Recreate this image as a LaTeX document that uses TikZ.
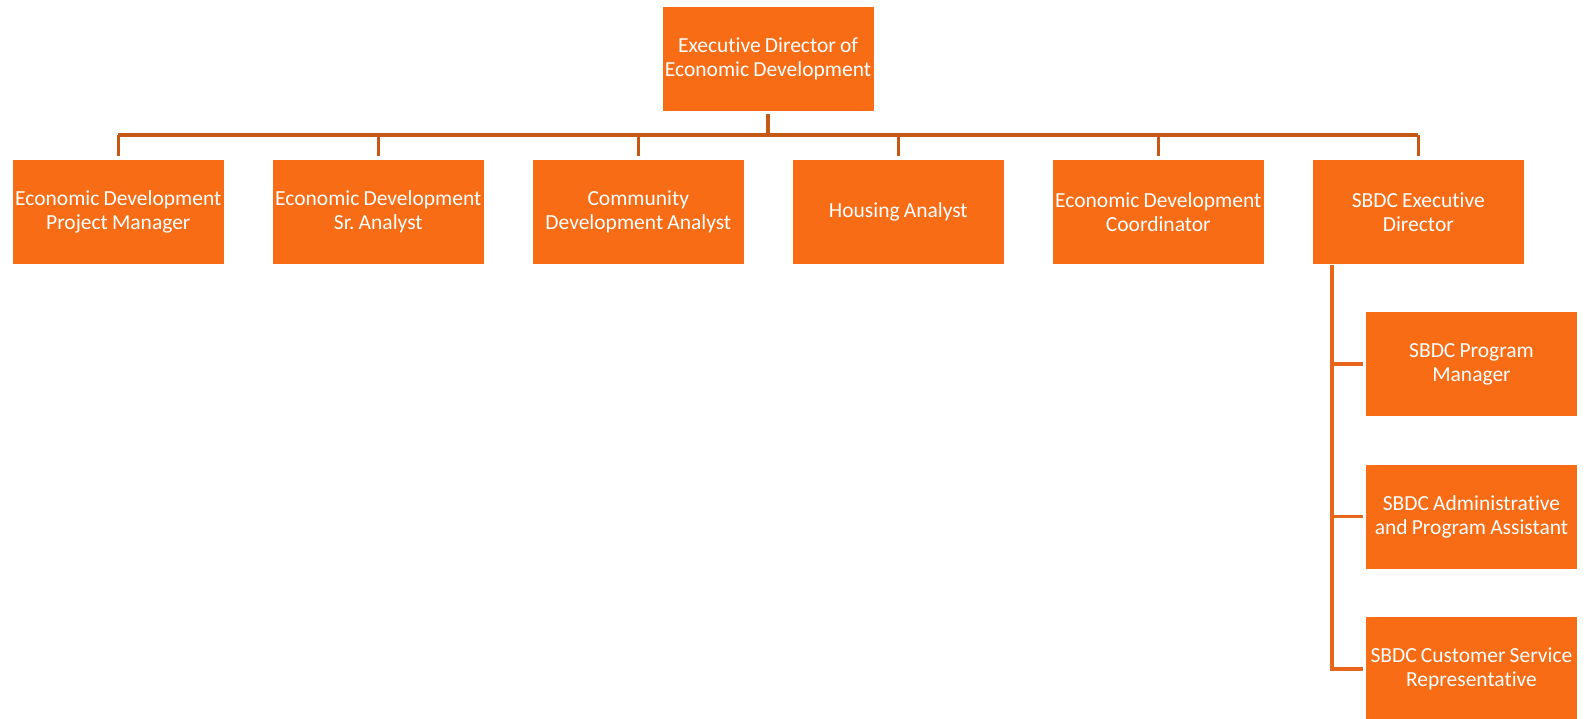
\documentclass[tikz,border=0pt]{standalone}
\usepackage{fontspec}
\setmainfont{Carlito}[Ligatures=NoCommon, WordSpace=0.85]
\definecolor{boxfill}{RGB}{249,108,22}
\definecolor{linetop}{RGB}{197,88,20}
\definecolor{lineside}{RGB}{232,102,28}
\tikzset{
  orgbox/.style={rectangle, fill=boxfill, draw=none, minimum width=211pt, minimum height=104pt,
    inner sep=0pt, align=center, text=white,
    font=\fontsize{21.5}{24}\selectfont\frenchspacing},
  conn/.style={draw=linetop, line width=3.5pt},
  sideconn/.style={draw=lineside, line width=3.5pt}
}
\begin{document}
\begin{tikzpicture}[x=1pt,y=-1pt]
\useasboundingbox (0,0) rectangle (1589,719);
\node[orgbox] (top) at (768,59) {Executive Director of\\Economic Development};
\node[orgbox] (c1) at (118.3,212) {Economic Development\\Project Manager};
\node[orgbox] (c2) at (378.3,212) {Economic Development\\Sr. Analyst};
\node[orgbox] (c3) at (638.3,212) {Community\\Development Analyst};
\node[orgbox] (c4) at (898.3,212) {Housing Analyst};
\node[orgbox] (c5) at (1158.3,212) {Economic Development\\Coordinator};
\node[orgbox] (c6) at (1418.3,212) {SBDC Executive\\Director};
\node[orgbox] (s1) at (1471.5,364) {SBDC Program\\Manager};
\node[orgbox] (s2) at (1471.5,516.5) {SBDC Administrative\\and Program Assistant};
\node[orgbox] (s3) at (1471.5,669) {SBDC Customer Service\\Representative};
\coordinate (bar) at (768,135);
\coordinate (vtop) at (1332,267);
\draw[conn, shorten <=3pt] (top.south) -- (bar);
\draw[conn] (c1.north |- bar) -- (c6.north |- bar);
\foreach \c in {c1,c2,c3,c4,c5,c6}{
  \draw[conn, shorten >=4pt] (\c.north |- bar) -- (\c.north);
}
\draw[sideconn, line cap=rect] (vtop) -- (vtop |- s3);
\foreach \s in {s1,s2,s3}{
  \draw[sideconn, shorten >=3pt] (vtop |- \s) -- (\s.west);
}
\end{tikzpicture}
\end{document}
